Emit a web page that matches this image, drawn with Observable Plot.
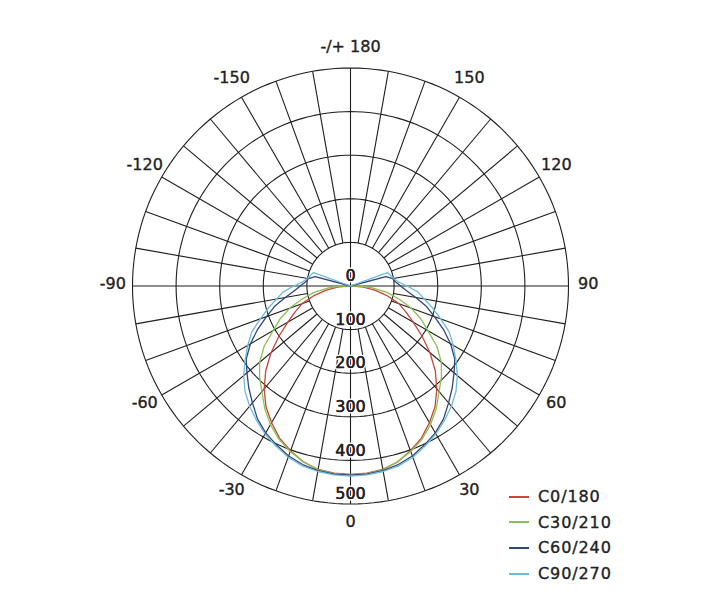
<!DOCTYPE html>
<html>
<head>
<meta charset="utf-8">
<script src="https://cdn.jsdelivr.net/npm/d3@7"></script>
<script src="https://cdn.jsdelivr.net/npm/@observablehq/plot@0.6"></script>
<style>
  html, body { margin: 0; padding: 0; background: #fff; }
  #wrap { position: relative; width: 720px; height: 600px; font-family: "DejaVu Sans", sans-serif; }
  #legend { position: absolute; left: 508px; top: 484px; font-size: 16px; color: #222; letter-spacing: 0.9px; -webkit-text-stroke: 0.35px #222; }
  .row { display: flex; align-items: center; height: 25.6px; }
  .row svg { margin-right: 8px; }
</style>
</head>
<body>
<div id="wrap">
  <div id="chart"></div>
  <div id="legend"></div>
</div>
<script>
// ---- data (candela values, symmetric about the 0° axis) ----
const angles   = [0,5,10,15,20,25,30,35,40,45,50,55,60,65,70,75,80,85,90,95,100,105,110,115,120,130,140,150,160,170,180];
const c0_180   = [432,431,427,418,402,385,362,338,308,275,238,200,166,140,118,88,58,30,8,0,0,0,0,0,0,0,0,0,0,0,0];
const c30_210  = [433,432,428,417,404,388,367,343,316,295,272,242,205,178,148,115,85,50,22,5,0,0,0,0,0,0,0,0,0,0,0];
const c60_240  = [434,433,430,424,415,402,389,372,350,330,310,292,265,235,205,180,152,130,115,104,98,84,0,0,0,0,0,0,0,0,0];
const c90_270  = [436,435,432,427,418,405,392,376,360,342,320,295,272,250,220,195,172,155,130,110,100,95,90,0,0,0,0,0,0,0,0];
const seriesNames  = ["C0/180", "C30/210", "C60/240", "C90/270"];
const seriesValues = [c0_180, c30_210, c60_240, c90_270];
const seriesColors = ["#c9453d", "#8cc152", "#33447e", "#6cbddc"];

const ringValues   = [100, 200, 300, 400, 500];
const ringLabels   = ["0", "100", "200", "300", "400", "500"];
const ringLabelAt  = [0, 100, 200, 300, 400, 500];
const spokeAngles  = d3.range(0, 360, 10);
const axisAngles   = [0, 90, 180, 270];
const angleLabelAngles = [0, 30, 60, 90, 120, 150, 180, -30, -60, -90, -120, -150];
const angleLabelTexts  = ["0", "30", "60", "90", "120", "150", "-/+ 180", "-30", "-60", "-90", "-120", "-150"];

// ---- layout ----
const W = 720, H = 600, CX = 350, CY = 285.5, K = 0.436; // px per candela unit
const rad = d => d * Math.PI / 180;
const px = (a, r) => r * Math.sin(rad(a));
const py = (a, r) => r * Math.cos(rad(a));

// curves: theta from -180..180, value at |theta|
const curvePts = [];
seriesNames.forEach((name, i) => {
  const vals = seriesValues[i];
  const full = [];
  for (let j = angles.length - 1; j >= 0; j--) full.push([-angles[j], vals[j]]);
  for (let j = 1; j < angles.length; j++) full.push([angles[j], vals[j]]);
  full.forEach(([a, v]) => curvePts.push({name, x: px(a, v), y: py(a, v)}));
});

const ringPts = [];
ringValues.forEach(v => d3.range(0, 361, 2).forEach(a => ringPts.push({ring: v, x: px(a, v), y: py(a, v)})));

const spokes = spokeAngles.map(a => {
  const r0 = axisAngles.includes(a) ? 0 : ringValues[0];
  const r1 = ringValues[ringValues.length - 1];
  return {x1: px(a, r0), y1: py(a, r0), x2: px(a, r1), y2: py(a, r1)};
});

const LR = 545;
const angleLabels = angleLabelAngles.map((a, i) => ({text: angleLabelTexts[i], x: px(a, LR), y: py(a, LR)}));
const radialLabels = ringLabelAt.map((v, i) => ({text: ringLabels[i], x: 0, y: v}));

const chart = Plot.plot({
  width: W, height: H,
  marginTop: 0, marginRight: 0, marginBottom: 0, marginLeft: 0,
  x: {domain: [-CX / K, (W - CX) / K], axis: null},
  y: {domain: [-CY / K, (H - CY) / K], range: [0, H], axis: null},
  color: {domain: seriesNames, range: seriesColors},
  style: {fontFamily: "DejaVu Sans, sans-serif", fontSize: "16px", color: "#222", background: "transparent"},
  marks: [
    Plot.line(ringPts, {x: "x", y: "y", z: "ring", stroke: "#1f1f1f", strokeWidth: 1.1}),
    Plot.link(spokes, {x1: "x1", y1: "y1", x2: "x2", y2: "y2", stroke: "#1f1f1f", strokeWidth: 1.1}),
    Plot.line(curvePts, {x: "x", y: "y", z: "name", stroke: "name", strokeWidth: 1.3, curve: "linear"}),
    Plot.text(radialLabels, {x: "x", y: "y", text: "text", dy: -10, fill: "#222", stroke: "white", strokeWidth: 3, fontSize: 16}),
    Plot.text(radialLabels, {x: "x", y: "y", text: "text", dy: -10, fill: "#222", stroke: "#222", strokeWidth: 0.35, fontSize: 16}),
    Plot.text(angleLabels, {x: "x", y: "y", text: "text", dy: -2, fill: "#222", stroke: "#222", strokeWidth: 0.35, fontSize: 16})
  ]
});
document.getElementById("chart").appendChild(chart);

const legend = document.getElementById("legend");
seriesNames.forEach((n, i) => {
  const row = document.createElement("div");
  row.className = "row";
  row.innerHTML = `<svg width="22" height="4"><line x1="1" y1="2" x2="21" y2="2" stroke="${seriesColors[i]}" stroke-width="2"/></svg><span>${n}</span>`;
  legend.appendChild(row);
});
</script>
</body>
</html>
